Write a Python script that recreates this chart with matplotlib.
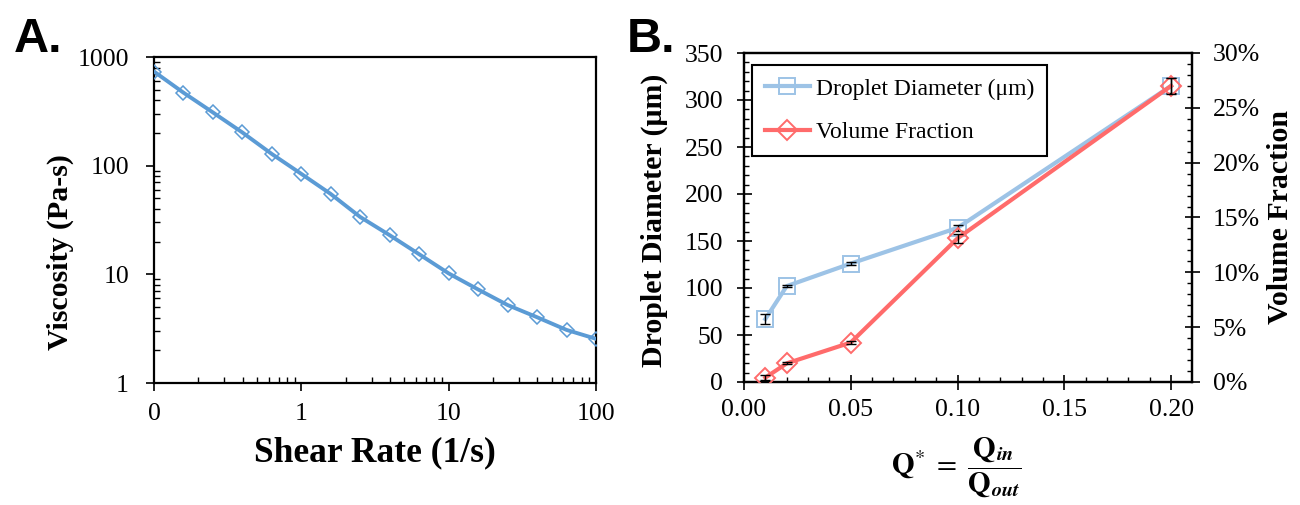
import matplotlib
matplotlib.use("Agg")
import matplotlib.pyplot as plt
from matplotlib.ticker import FixedLocator, MultipleLocator, NullFormatter, PercentFormatter, LogLocator

plt.rcParams["font.family"] = ["Liberation Serif", "DejaVu Serif"]
plt.rcParams["mathtext.fontset"] = "stix"

W, H = 1300, 505

# panel A: viscosity vs shear rate
shear_rate = [0.1, 0.158, 0.251, 0.398, 0.631, 1.0, 1.58, 2.51, 3.98, 6.31,
              10.0, 15.8, 25.1, 39.8, 63.1, 100.0]
viscosity = [735, 471, 309, 202, 128, 84, 55, 33.7, 22.9, 15.3,
             10.2, 7.27, 5.22, 4.03, 3.08, 2.55]
a_xticks = [0.1, 1, 10, 100]
a_xticklabels = ["0", "1", "10", "100"]
a_yticks = [1, 10, 100, 1000]
a_yticklabels = ["1", "10", "100", "1000"]

# panel B: droplet diameter and volume fraction vs Q*
q_ratio = [0.01, 0.02, 0.05, 0.10, 0.20]
droplet_diam = [67, 102, 126, 164, 315]
droplet_err = [5, 1, 2, 3, 8]
vol_frac = [0.004, 0.017, 0.036, 0.131, 0.270]
vol_err = [0.002, 0.001, 0.001, 0.004, 0.007]

BLUE_A = "#5b9bd5"
BLUE_B = "#9dc3e6"
RED_B = "#ff6b6b"
TICK_FS = 18.5


def px_axes(fig, left, top, right, bottom):
    return fig.add_axes([left / W, 1 - bottom / H, (right - left) / W, (bottom - top) / H])


fig = plt.figure(figsize=(W / 100, H / 100), dpi=100)

# ---- panel A ----
axA = px_axes(fig, 154, 57, 596, 383)
axA.plot(shear_rate, viscosity, color=BLUE_A, lw=2.8, marker="D", ms=7.5,
         mfc="none", mec=BLUE_A, mew=1.1, zorder=3)
axA.set_xscale("log")
axA.set_yscale("log")
axA.set_xlim(0.1, 100)
axA.set_ylim(1, 1000)
axA.xaxis.set_major_locator(FixedLocator(a_xticks))
axA.set_xticklabels(a_xticklabels)
axA.yaxis.set_major_locator(FixedLocator(a_yticks))
axA.set_yticklabels(a_yticklabels)
axA.xaxis.set_minor_locator(LogLocator(base=10, subs=range(2, 10)))
axA.yaxis.set_minor_locator(LogLocator(base=10, subs=range(2, 10)))
axA.xaxis.set_minor_formatter(NullFormatter())
axA.yaxis.set_minor_formatter(NullFormatter())
axA.tick_params(which="major", direction="out", length=5.5, width=1.2, labelsize=TICK_FS)
axA.tick_params(axis="y", which="major", pad=12.5)
axA.tick_params(axis="x", which="major", pad=9)
axA.tick_params(which="minor", direction="in", length=4.5, width=1.0)
for sp in axA.spines.values():
    sp.set_linewidth(1.6)

fig.text(60 / W, 1 - 252 / H, "Viscosity (Pa-s)", rotation=90, ha="center", va="center",
         fontsize=21.5, fontweight="bold")
fig.text(375 / W, 1 - 453 / H, "Shear Rate (1/s)", ha="center", va="center",
         fontsize=25.5, fontweight="bold")
fig.text(14 / W, 1 - 52 / H, "A.", family=["Liberation Sans", "DejaVu Sans"],
         fontweight="heavy", fontsize=35, va="baseline")

# ---- panel B ----
axB = px_axes(fig, 744, 53, 1192, 382)
ax2 = axB.twinx()

axB.errorbar(q_ratio, droplet_diam, yerr=droplet_err, fmt="none", ecolor="black",
             elinewidth=1.0, capsize=3.5, capthick=1.0, zorder=4)
line_d, = axB.plot(q_ratio, droplet_diam, color=BLUE_B, lw=3.0, marker="s", ms=12,
                   mfc="none", mec=BLUE_B, mew=1.4, zorder=3)
ax2.errorbar(q_ratio, vol_frac, yerr=vol_err, fmt="none", ecolor="black",
             elinewidth=1.0, capsize=3.5, capthick=1.0, zorder=4)
line_v, = ax2.plot(q_ratio, vol_frac, color=RED_B, lw=3.0, marker="D", ms=10,
                   mfc="none", mec=RED_B, mew=1.4, zorder=3)

axB.set_xlim(0, 0.2098)
axB.set_ylim(0, 350)
ax2.set_ylim(0, 0.30)
axB.xaxis.set_major_locator(MultipleLocator(0.05))
axB.xaxis.set_minor_locator(MultipleLocator(0.01))
axB.xaxis.set_major_formatter(lambda v, p: f"{v:.2f}")
axB.yaxis.set_major_locator(MultipleLocator(50))
axB.yaxis.set_minor_locator(MultipleLocator(10))
ax2.yaxis.set_major_locator(MultipleLocator(0.05))
ax2.yaxis.set_minor_locator(MultipleLocator(0.01))
ax2.yaxis.set_major_formatter(PercentFormatter(xmax=1, decimals=0))

axB.tick_params(which="major", direction="inout", length=10.8, width=1.2, labelsize=TICK_FS)
axB.tick_params(axis="y", which="major", pad=9.5)
axB.tick_params(axis="x", which="major", pad=7)
axB.tick_params(which="minor", direction="in", length=3.6, width=1.0)
ax2.tick_params(which="major", direction="inout", length=10.8, width=1.2, labelsize=TICK_FS, pad=9.5)
ax2.tick_params(which="minor", direction="in", length=3.8, width=1.0)
for a in (axB, ax2):
    for sp in a.spines.values():
        sp.set_linewidth(1.6)

leg = ax2.legend([line_d, line_v], ["Droplet Diameter (\u03bcm)", "Volume Fraction"],
                 loc="upper left", bbox_to_anchor=(0.018, 0.9635), borderaxespad=0,
                 fontsize=17, frameon=True, fancybox=False, framealpha=1,
                 edgecolor="black", handlelength=1.9, handletextpad=0.25,
                 labelspacing=0.95, borderpad=0.55, numpoints=1)
leg.get_frame().set_linewidth(1.5)

fig.text(654 / W, 1 - 220 / H, "Droplet Diameter (\u03bcm)", rotation=90, ha="center",
         va="center", fontsize=21.5, fontweight="bold")
fig.text(1280 / W, 1 - 217 / H, "Volume Fraction", rotation=90, ha="center",
         va="center", fontsize=21.5, fontweight="bold")
fig.text(956 / W, 1 - 467 / H,
         r"$\mathbf{Q}^{*}\ =\ \dfrac{\mathbf{Q}_{\boldsymbol{in}}}{\mathbf{Q}_{\boldsymbol{out}}}$",
         ha="center", va="center", fontsize=21)
fig.text(627 / W, 1 - 52 / H, "B.", family=["Liberation Sans", "DejaVu Sans"],
         fontweight="heavy", fontsize=35, va="baseline")

fig.savefig("out.png", dpi=100)
